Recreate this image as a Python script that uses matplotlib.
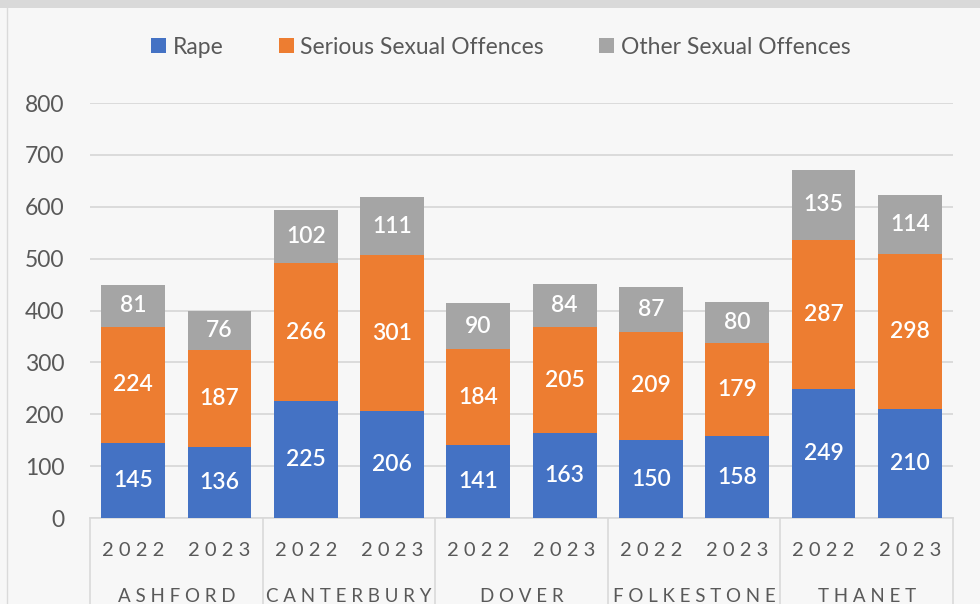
import matplotlib
matplotlib.use("Agg")
import matplotlib.pyplot as plt
from matplotlib.patches import Patch
import numpy as np

plt.rcParams['font.family'] = ['Lato', 'DejaVu Sans']

cities = ["ASHFORD", "CANTERBURY", "DOVER", "FOLKESTONE", "THANET"]
years = ["2022", "2023"]
rape = [145, 136, 225, 206, 141, 163, 150, 158, 249, 210]
serious = [224, 187, 266, 301, 184, 205, 209, 179, 287, 298]
other = [81, 76, 102, 111, 90, 84, 87, 80, 135, 114]
series_names = ["Rape", "Serious Sexual Offences", "Other Sexual Offences"]
colors = ["#4472C4", "#ED7D31", "#A5A5A5"]
yticks = [0, 100, 200, 300, 400, 500, 600, 700, 800]

text_col = "#595959"
grid_col = "#D9D9D9"
bg = "#F7F7F7"

fig = plt.figure(figsize=(9.8, 6.04), dpi=100, facecolor=bg)
# top grey band
fig.patches.append(plt.Rectangle((0, 1 - 8 / 604), 1, 8 / 604, transform=fig.transFigure,
                                 facecolor="#D9D9D9", edgecolor="none", zorder=0))
fig.lines.append(plt.Line2D([7 / 980, 7 / 980], [0, 1 - 8 / 604], transform=fig.transFigure,
                            color="#DADADA", lw=1.0))

ax = fig.add_axes([90 / 980, 0.14238, 0.8806, 0.68709])
ax.set_facecolor(bg)

x = np.arange(len(rape))
w = 0.74
data = [rape, serious, other]
bottom = np.zeros(len(rape))
for vals, col in zip(data, colors):
    vals = np.array(vals)
    ax.bar(x, vals, w, bottom=bottom, color=col, zorder=3)
    for xi, b, v in zip(x, bottom, vals):
        ax.text(xi, b + v / 2, str(v), ha="center", va="center", color="white",
                fontsize=16.5, fontweight="semibold", zorder=4)
    bottom = bottom + vals

ax.set_ylim(0, 800)
ax.set_xlim(-0.5, len(rape) - 0.5)
ax.set_yticks(yticks)
ax.yaxis.grid(True, color=grid_col, lw=1.3, zorder=0)
ax.tick_params(axis="y", length=0, pad=18.5, labelsize=16.5, labelcolor=text_col)
ax.set_xticks([])
for s in ax.spines.values():
    s.set_visible(False)

# two-level category axis
trans = ax.get_xaxis_transform()
for i, xi in enumerate(x):
    ax.text(xi, -0.079, " ".join(years[i % 2]), ha="center", va="center",
            fontsize=14.5, color=text_col, transform=trans, clip_on=False)
for j, c in enumerate(cities):
    ax.text(2 * j + 0.5, -0.19, " ".join(c), ha="center", va="center",
            fontsize=13.5, color=text_col, transform=trans, clip_on=False)
for b in np.arange(-0.5, len(rape), 2):
    ax.plot([b, b], [0, -0.22], transform=trans, color=grid_col, lw=1.2, clip_on=False)
ax.plot([-0.5, len(rape) - 0.5], [0, 0], transform=trans, color=grid_col, lw=1.2, clip_on=False)

handles = [Patch(facecolor=c, edgecolor="none") for c in colors]
fig.legend(handles, series_names, loc="center", bbox_to_anchor=(0.511, 0.922), ncol=3,
           frameon=False, fontsize=16.5, labelcolor=text_col, handlelength=0.65,
           handleheight=0.65, handletextpad=0.3, columnspacing=2.4)

fig.savefig("out.png", dpi=100, facecolor=bg)
